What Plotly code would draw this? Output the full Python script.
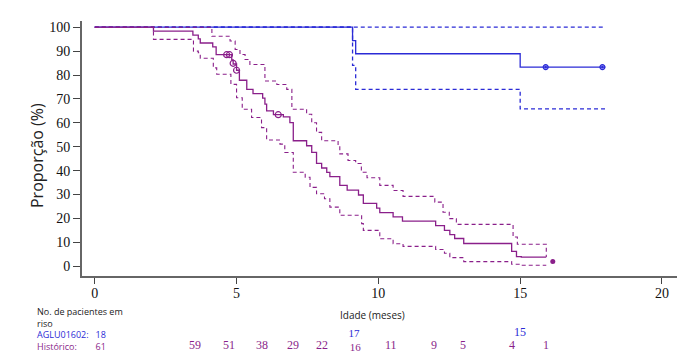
import plotly.graph_objects as go

# ---- data ----
xticks = [0, 5, 10, 15, 20]
yticks = [0, 10, 20, 30, 40, 50, 60, 70, 80, 90, 100]

# AGLU01602 (blue)
ag_t = [0, 9.09, 9.20, 15.0, 18.0]
ag_s = [100, 94.4, 88.9, 83.3, 83.3]
ag_up_t = [0, 18.0]
ag_up_s = [100, 100]
ag_lo_t = [0, 9.09, 9.20, 15.0, 18.0]
ag_lo_s = [100, 84.0, 74.0, 65.8, 65.8]
ag_cens_t = [15.9, 17.9]
ag_cens_s = [83.3, 83.3]

# Historico (purple)
hi_t = [0, 2.07, 3.46, 3.65, 3.72, 4.16, 4.28, 4.83, 4.88, 5.0, 5.1, 5.36, 5.58,
        5.92, 6.0, 6.06, 6.3, 6.65, 6.88, 7.0, 7.47, 7.65, 7.82, 8.0, 8.18, 8.29,
        8.64, 8.9, 9.3, 9.47, 9.94, 10.05, 10.52, 10.85, 12.02, 12.33, 12.52, 12.69,
        13.01, 14.7, 14.87, 15.04, 15.92]
hi_s = [100, 98.4, 96.7, 95.1, 93.4, 91.8, 88.5, 86.3, 84.6, 82.0, 77.8, 74.0, 72.2,
        70.3, 67.8, 65.0, 63.4, 62.5, 60.1, 52.5, 50.4, 47.6, 43.0, 41.1, 39.3, 37.5,
        33.8, 31.8, 29.8, 26.3, 24.3, 22.4, 20.6, 18.9, 17.0, 15.0, 13.2, 11.6,
        9.5, 6.2, 4.0, 3.8, 3.8]
hi_up_t = [0, 4.13, 4.77, 4.95, 5.12, 5.30, 5.47, 6.0, 6.42, 6.77, 6.95, 7.47, 7.65,
           7.82, 8.0, 8.58, 8.64, 8.93, 9.2, 9.4, 9.6, 10.05, 10.52, 10.87, 11.99,
           12.28, 12.5, 12.75, 14.75, 14.9, 15.04, 15.92, 15.921]
hi_up_s = [100, 96.2, 94.2, 90.7, 88.6, 86.5, 84.4, 77.5, 76.0, 74.0, 65.7, 63.6, 60.0,
           56.0, 52.5, 50.4, 47.0, 44.2, 43.0, 39.3, 37.0, 33.8, 31.7, 29.2, 26.8,
           22.6, 19.9, 17.5, 12.2, 9.2, 9.2, 9.2, 3.8]
hi_lo_t = [0, 2.07, 3.48, 3.65, 3.72, 4.18, 4.30, 4.80, 5.0, 5.2, 5.53, 5.88, 6.06,
           6.53, 6.7, 7.0, 7.42, 7.59, 7.82, 8.1, 8.29, 8.64, 9.41, 9.47, 10.05,
           10.52, 10.87, 12.02, 12.33, 12.52, 13.01, 14.7, 15.04, 15.92]
hi_lo_s = [100, 94.9, 90.0, 89.3, 87.0, 83.0, 80.3, 76.1, 70.5, 65.7, 62.2, 58.0, 52.8,
           51.1, 47.6, 39.3, 37.2, 33.0, 30.3, 28.2, 24.7, 21.3, 17.8, 15.0, 11.5,
           9.4, 8.3, 7.0, 5.4, 3.6, 1.9, 0.8, 0.4, 0.4]
hi_cens_t = [4.65, 4.75, 4.88, 5.0, 6.47]
hi_cens_s = [88.5, 88.5, 84.9, 82.0, 63.4]
hi_end_t = [16.15]
hi_end_s = [2.0]

# at-risk table
risk_title = ["No. de pacientes em", "riso"]
ag_label, ag_n0 = "AGLU01602:", "18"
hi_label, hi_n0 = "Histórico:", "61"
ag_risk_t = [9.07, 15.0]
ag_risk_n = ["17", "15"]
hi_risk_t = [3.54, 4.75, 5.9, 7.0, 8.0, 9.2, 10.45, 11.95, 13.0, 14.7, 15.9]
hi_risk_n = ["59", "51", "38", "29", "22", "16", "11", "9", "5", "4", "1"]

BLUE = "#2b2bd6"
PURP = "#8a1f8a"
DASH = "4px,3px"

fig = go.Figure()

def step(x, y, color, dash=None, width=1.3):
    fig.add_trace(go.Scatter(x=x, y=y, mode="lines", line_shape="hv",
                             line=dict(color=color, width=width, dash=dash),
                             showlegend=False, hoverinfo="skip"))

step(ag_up_t, ag_up_s, BLUE, DASH)
step(ag_lo_t, ag_lo_s, BLUE, DASH)
step(ag_t, ag_s, BLUE)
step(hi_up_t, hi_up_s, PURP, DASH, 1.1)
step(hi_lo_t, hi_lo_s, PURP, DASH, 1.1)
step(hi_t, hi_s, PURP, None, 1.3)

fig.add_trace(go.Scatter(x=ag_cens_t, y=ag_cens_s, mode="markers",
                         marker=dict(symbol="circle-dot", size=5, color="rgba(60,60,230,0.5)",
                                     line=dict(color=BLUE, width=1.2)),
                         showlegend=False, hoverinfo="skip"))
fig.add_trace(go.Scatter(x=hi_cens_t, y=hi_cens_s, mode="markers",
                         marker=dict(symbol="circle-open", size=6, color=PURP,
                                     line=dict(color=PURP, width=1.2)),
                         showlegend=False, hoverinfo="skip"))
fig.add_trace(go.Scatter(x=hi_end_t, y=hi_end_s, mode="markers",
                         marker=dict(symbol="circle", size=5, color=PURP),
                         showlegend=False, hoverinfo="skip"))

L, R, T, B = 82, 4, 21, 78
W, H = 681, 354
pw, ph = W - L - R, H - T - B

def py(pix):
    return (H - B - pix) / ph

def px(pix):
    return (pix - L) / pw

serif = "Liberation Serif"
sans = "Open Sans"

def note(text, x, y, color="#222", size=10, family=sans, xanchor="center",
         xref="paper", **kw):
    return dict(text=text, x=x, y=y, xref=xref, yref="paper", xanchor=xanchor,
                yanchor="middle", showarrow=False,
                font=dict(family=family, size=size, color=color), **kw)

nb = "&nbsp;"
block = (risk_title[0] + "<br>" + risk_title[1] + "<br>"
         + f"<span style='color:{BLUE}'>{ag_label}{nb*3}{ag_n0}</span><br>"
         + f"<span style='color:{PURP}'>{hi_label}{nb*8}{hi_n0}</span>")

ann = []
ann.append(note("Proporção (%)", px(37), py(156), size=16, textangle=-90))
ann.append(note("Idade (meses)", px(372), py(315)))
ann.append(note(block, px(35), py(329), size=9, xanchor="left", align="left"))

# at-risk numbers; values at (nearly) the same time are stacked in one note
Y_AG, Y_HI = 332, 345
used_hi = set()
for t, n in zip(ag_risk_t, ag_risk_n):
    match = [i for i, th in enumerate(hi_risk_t) if abs(th - t) < 0.3]
    if match:
        i = match[0]
        used_hi.add(i)
        txt = (f"<span style='color:{BLUE}'>{n}</span><br>"
               f"<span style='color:{PURP}'>{nb}{hi_risk_n[i]}</span>")
        ann.append(note(txt, (t + hi_risk_t[i]) / 2, py((Y_AG + Y_HI + 2) / 2),
                        size=11, family=serif, xref="x"))
    else:
        ann.append(note(n, t, py(Y_AG), color=BLUE, size=12, family=serif, xref="x"))
for i, (t, n) in enumerate(zip(hi_risk_t, hi_risk_n)):
    if i in used_hi:
        continue
    ann.append(note(n, t, py(Y_HI), color=PURP, size=12, family=serif, xref="x"))

fig.update_layout(
    width=W, height=H, margin=dict(l=L, r=R, t=T, b=B),
    paper_bgcolor="white", plot_bgcolor="white",
    annotations=ann,
    xaxis=dict(range=[-0.45, 20.53], tickvals=xticks, ticks="outside", ticklen=6,
               tickcolor="#444", tickwidth=1, showline=True, linecolor="#666", linewidth=2,
               showgrid=False, zeroline=False, ticklabelstandoff=-3,
               tickfont=dict(family=serif, size=14, color="#111")),
    yaxis=dict(range=[-4.1, 102.6], tickvals=yticks, ticks="outside", ticklen=7,
               tickcolor="#444", tickwidth=1, showline=True, linecolor="#666", linewidth=2,
               showgrid=False, zeroline=False,
               tickfont=dict(family=serif, size=14, color="#111")),
)

fig.write_html("out.html")
